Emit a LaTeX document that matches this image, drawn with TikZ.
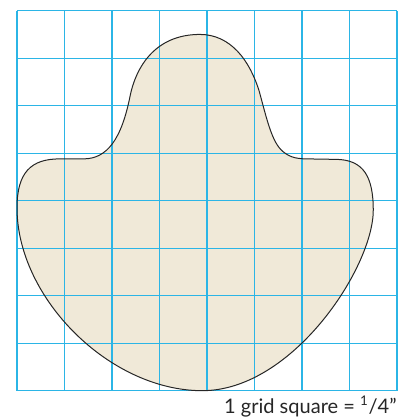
\documentclass[tikz,border=0pt]{standalone}
\usepackage{fontspec}
\setmainfont{Lato}
\usepackage{xcolor}
\usetikzlibrary{positioning}
\definecolor{gridblue}{HTML}{2BB5E6}
\definecolor{shapefill}{HTML}{F0E9D8}
\tikzset{
  % The square grid the pattern sits on
  gridline/.style={draw=gridblue, line width=0.7pt},
  % The pattern piece: fill under the grid, outline over it
  piecefill/.style={fill=shapefill, draw=none},
  piece/.style={draw=black!85, line width=0.6pt},
  % The scale note under the grid
  scalelbl/.style={font=\fontsize{12}{14}\selectfont, text=black!85,
    inner sep=0pt, anchor=base east},
}
% Outline of the piece, in grid squares
\newcommand{\pieceoutline}{
  (0,3.85) .. controls (0,4.6) and (0.3,4.88) .. (0.9,4.88)
  -- (1.4,4.88)
  .. controls (1.9,4.88) and (2.2,5.3) .. (2.38,6.2)
  .. controls (2.5,6.8) and (2.9,7.5) .. (3.85,7.5)
  .. controls (4.5,7.5) and (4.9,6.95) .. (5.1,6.3)
  .. controls (5.25,5.75) and (5.35,5.3) .. (5.55,5.08)
  .. controls (5.7,4.93) and (5.85,4.88) .. (6.1,4.88)
  -- (6.7,4.87)
  .. controls (7.3,4.87) and (7.5,4.5) .. (7.5,3.8)
  .. controls (7.5,2.6) and (5.8,0) .. (3.9,0)
  .. controls (1.95,0) and (0,1.95) .. (0,3.85) -- cycle}
\begin{document}
\begin{tikzpicture}

\useasboundingbox (-0.358,-0.596) rectangle (8.337,8.225);

\fill[piecefill] \pieceoutline;
\draw[gridline] (0,0) grid (8,8);
\draw[piece] \pieceoutline;

\node[scalelbl] (scale) at (8,-0.47) {1 grid square = \textsuperscript{1}/4\symbol{"22}};

\end{tikzpicture}
\end{document}
